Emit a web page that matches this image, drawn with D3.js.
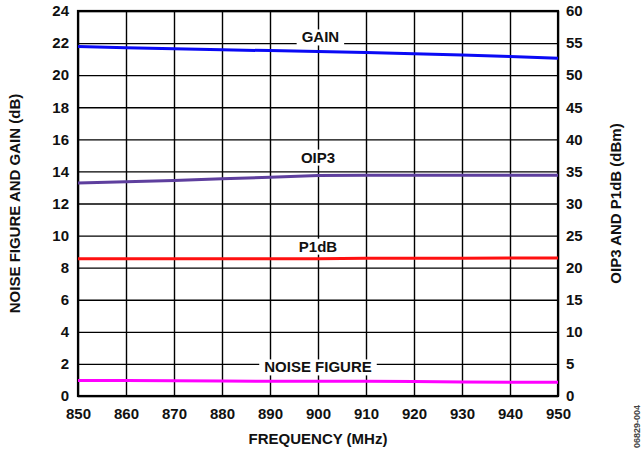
<!DOCTYPE html>
<html>
<head>
<meta charset="utf-8">
<script src="https://cdn.jsdelivr.net/npm/d3@7"></script>
<style>
  html, body { margin: 0; padding: 0; background: #fff; }
  svg { display: block; }
  text { font-family: "Liberation Sans", Arial, Helvetica, sans-serif; font-weight: bold; }
</style>
</head>
<body>
<svg id="chart" width="642" height="450"></svg>
<script>
// ---- data ----
const frequency = [850, 860, 870, 880, 890, 900, 910, 920, 930, 940, 950];
const gainDb    = [21.78, 21.71, 21.65, 21.58, 21.53, 21.48, 21.42, 21.33, 21.25, 21.16, 21.06];
const oip3Dbm   = [33.2, 33.4, 33.6, 33.85, 34.1, 34.35, 34.4, 34.4, 34.4, 34.4, 34.4];
const p1dbDbm   = [21.4, 21.4, 21.4, 21.4, 21.4, 21.4, 21.45, 21.45, 21.45, 21.5, 21.5];
const nfDb      = [0.96, 0.96, 0.95, 0.93, 0.92, 0.92, 0.92, 0.9, 0.88, 0.86, 0.85];
const xTicks    = [850, 860, 870, 880, 890, 900, 910, 920, 930, 940, 950];
const leftTicks = [0, 2, 4, 6, 8, 10, 12, 14, 16, 18, 20, 22, 24];
const rightTicks= [0, 5, 10, 15, 20, 25, 30, 35, 40, 45, 50, 55, 60];
const xTitle = "FREQUENCY (MHz)";
const leftTitle = "NOISE FIGURE AND GAIN (dB)";
const rightTitle = "OIP3 AND P1dB (dBm)";
const seriesLabels = ["GAIN", "OIP3", "P1dB", "NOISE FIGURE"];

// ---- layout ----
const L = 78, R = 558, T = 11, B = 396;
const svg = d3.select("#chart");
const x = d3.scaleLinear().domain([850, 950]).range([L, R]);
const yL = d3.scaleLinear().domain([0, 24]).range([B, T]);
const yR = d3.scaleLinear().domain([0, 60]).range([B, T]);

// grid via axes
const gridX = svg.append("g").attr("class", "gridx").attr("transform", `translate(0,${B})`)
  .call(d3.axisBottom(x).tickValues(xTicks).tickSize(-(B - T)).tickFormat(""));
const gridY = svg.append("g").attr("class", "gridy").attr("transform", `translate(${L},0)`)
  .call(d3.axisLeft(yL).tickValues(leftTicks).tickSize(-(R - L)).tickFormat(""));
[gridX, gridY].forEach(g => {
  g.select(".domain").remove();
  g.selectAll(".tick line").attr("stroke", "#000").attr("stroke-width", 1.4);
});

// frame
svg.append("rect").attr("x", L).attr("y", T).attr("width", R - L).attr("height", B - T)
  .attr("fill", "none").attr("stroke", "#000").attr("stroke-width", 2.2);

// axes (labels only)
const fs = 15;
const ax = svg.append("g").attr("transform", `translate(0,${B})`)
  .call(d3.axisBottom(x).tickValues(xTicks).tickFormat(d3.format("d")).tickSize(0).tickPadding(12));
const al = svg.append("g").attr("transform", `translate(${L},0)`)
  .call(d3.axisLeft(yL).tickValues(leftTicks).tickFormat(d3.format("d")).tickSize(0).tickPadding(9));
const ar = svg.append("g").attr("transform", `translate(${R},0)`)
  .call(d3.axisRight(yR).tickValues(rightTicks).tickFormat(d3.format("d")).tickSize(0).tickPadding(8));
[ax, al, ar].forEach(g => {
  g.select(".domain").remove();
  g.selectAll(".tick line").remove();
  g.selectAll("text").attr("font-size", fs).attr("fill", "#111")
    .attr("font-family", "Liberation Sans, Arial, sans-serif").attr("font-weight", "bold");
});

// titles
svg.append("text").attr("x", (L + R) / 2).attr("y", 444).attr("text-anchor", "middle")
  .attr("font-size", fs).attr("fill", "#111").text(xTitle);
svg.append("text").attr("transform", `translate(20,${(T + B) / 2}) rotate(-90)`)
  .attr("text-anchor", "middle").attr("font-size", fs).attr("fill", "#111").text(leftTitle);
svg.append("text").attr("transform", `translate(621,${(T + B) / 2}) rotate(-90)`)
  .attr("text-anchor", "middle").attr("font-size", fs).attr("fill", "#111").text(rightTitle);
svg.append("text").attr("transform", `translate(640,448) rotate(-90)`)
  .attr("font-size", 9).attr("font-weight", "normal").attr("fill", "#444").text("06829-004");

// series lines
const lineGen = (ys, sc) => d3.line().x((d, i) => x(frequency[i])).y(d => sc(d))(ys);
const series = [
  { v: gainDb,  sc: yL, c: "#0a0af5" },
  { v: oip3Dbm, sc: yR, c: "#5e3f9e" },
  { v: p1dbDbm, sc: yR, c: "#ff1010" },
  { v: nfDb,    sc: yL, c: "#ff00ff" }
];
series.forEach(s => {
  svg.append("path").attr("d", lineGen(s.v, s.sc)).attr("fill", "none")
    .attr("stroke", s.c).attr("stroke-width", 3);
});

// series labels with white backgrounds (positions in left-axis units)
const labelPos = [
  { t: seriesLabels[0], xv: 900.5, yv: 22.04 },
  { t: seriesLabels[1], xv: 900,   yv: 14.55 },
  { t: seriesLabels[2], xv: 900,   yv: 9.0 },
  { t: seriesLabels[3], xv: 900,   yv: 1.47 }
];
labelPos.forEach(p => {
  const g = svg.append("g");
  const txt = g.append("text").attr("x", x(p.xv)).attr("y", yL(p.yv))
    .attr("text-anchor", "middle").attr("font-size", fs).attr("fill", "#111").text(p.t);
  const bb = txt.node().getBBox();
  g.insert("rect", "text").attr("x", bb.x - 5).attr("y", bb.y + 1)
    .attr("width", bb.width + 10).attr("height", bb.height - 1).attr("fill", "#fff");
});
</script>
</body>
</html>
